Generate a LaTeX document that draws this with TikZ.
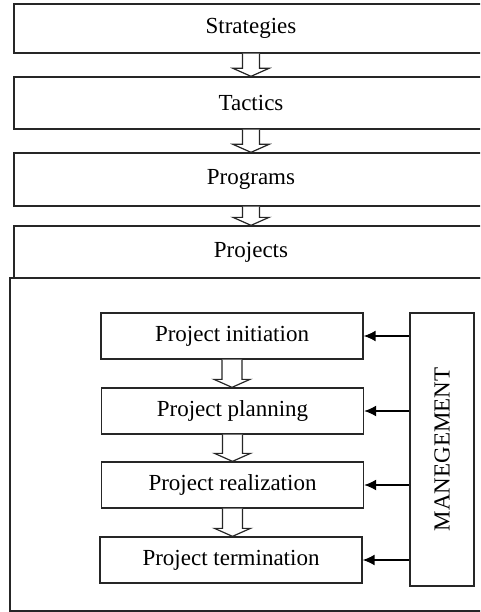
\documentclass[tikz,border=0pt]{standalone}
\usepackage{fontspec}
\setmainfont{Liberation Serif}
\usetikzlibrary{arrows.meta,calc}

\tikzset{
  box/.style={draw=black!85, line width=1.3pt, inner sep=0pt, fill=white,
              font=\fontsize{23}{27}\selectfont},
  wide/.style={box, minimum width=474pt, minimum height=#1},
  stage/.style={box, minimum width=262pt, minimum height=46pt},
  hollow/.style={draw=black!85, line width=1.2pt, fill=white, line join=miter},
  ctrl/.style={draw=black, line width=1.6pt, -{Latex[length=12pt,width=11pt]}},
}

% open block arrow from the bottom of #1 to the top of #2
\newcommand\blockarrow[4]{%
  \path[hollow] let \p1=(#1.south), \p2=(#2.north) in
    (\x1-#3,\y1) -- (\x1-#3,\y2+8pt) -- (\x1-#4,\y2+8pt) -- (\x1,\y2)
    -- (\x1+#4,\y2+8pt) -- (\x1+#3,\y2+8pt) -- (\x1+#3,\y1);
}

\begin{document}
\begin{tikzpicture}[x=1pt,y=-1pt]
  \useasboundingbox (0,0) rectangle (480,612);
  \clip (0,0) rectangle (480,612);

  % frame around the project life cycle
  \node[draw=black!85, line width=1.3pt, minimum width=480pt, minimum height=333pt,
        inner sep=0pt] (frame) at (250,444.5) {};

  % hierarchy
  \node[wide=49pt] (strat) at (251,28.5) {Strategies};
  \node[wide=52pt] (tact)  at (251,103)  {Tactics};
  \node[wide=53pt] (prog)  at (251,179.5) {Programs};
  \node[wide=52pt] (proj)  at (251,252)  {Projects};

  \blockarrow{strat}{tact}{8.5pt}{18pt}
  \blockarrow{tact}{prog}{8.5pt}{18pt}
  \blockarrow{prog}{proj}{8.5pt}{18pt}

  % project stages
  \node[stage] (init)  at (232,336)   {Project initiation};
  \node[stage] (plan)  at (232.5,411) {Project planning};
  \node[stage] (real)  at (232.5,485) {Project realization};
  \node[stage] (term)  at (231,560)   {Project termination};

  \blockarrow{init}{plan}{10pt}{18pt}
  \blockarrow{plan}{real}{10pt}{18pt}
  \blockarrow{real}{term}{10pt}{18pt}

  % management
  \node[box, minimum width=64pt, minimum height=273pt] (mgmt) at (442,449.5)
    {\rotatebox{90}{MANEGEMENT}};

  \draw[ctrl] (mgmt.west |- init.east) -- (init.east);
  \draw[ctrl] (mgmt.west |- plan.east) -- (plan.east);
  \draw[ctrl] (mgmt.west |- real.east) -- (real.east);
  \draw[ctrl] (mgmt.west |- term.east) -- (term.east);
\end{tikzpicture}
\end{document}
